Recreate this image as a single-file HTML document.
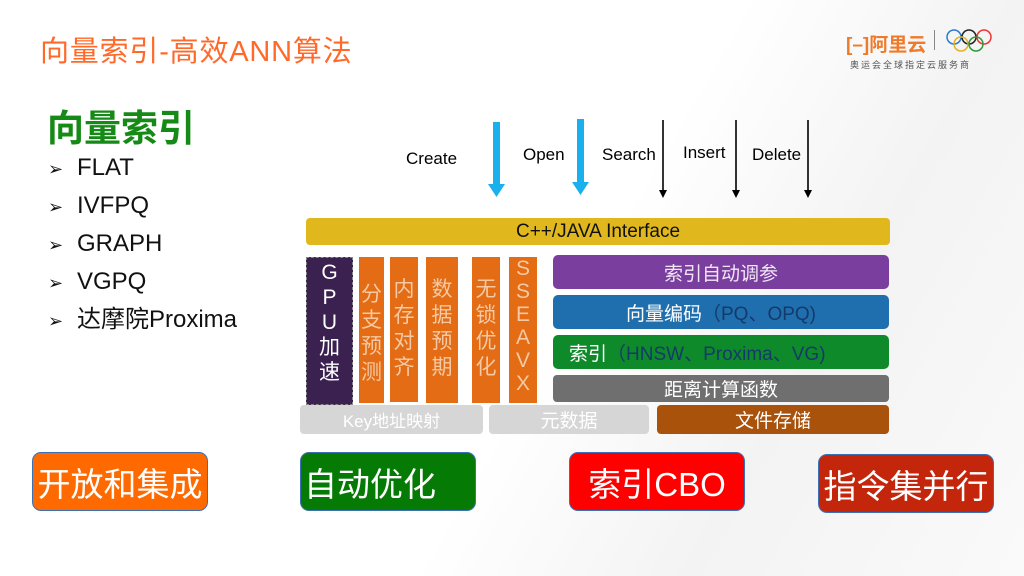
<!DOCTYPE html>
<html><head><meta charset="utf-8"><style>
*{margin:0;padding:0;box-sizing:border-box}
body{width:1024px;height:576px;overflow:hidden;background:linear-gradient(120deg,#fff 0%,#fff 55%,#f3f3f3 75%,#fafafa 100%);position:relative;font-family:"Liberation Sans","Noto Sans CJK SC",sans-serif}
.a{position:absolute}
.t{display:flex;align-items:center;justify-content:center;color:#fff;white-space:nowrap}
.col{position:absolute;background:#e36c14;color:#f4c9a4;font-size:21px;line-height:26px;text-align:center;display:flex;flex-direction:column;align-items:center}
.li{position:absolute;left:48px;font-size:24px;line-height:30px;color:#111;white-space:nowrap}
.li span{display:inline-block;width:29px;font-size:18px}
.btn{position:absolute;top:452px;height:59px;width:176px;border:1.5px solid #3b6fb6;border-radius:9px;color:#fff;font-size:33px;display:flex;align-items:center;justify-content:center}
</style></head><body>
<div class="a" style="left:40px;top:34px;font-size:29px;letter-spacing:0.8px;color:#ff6a2a;line-height:36px">向量索引-高效ANN算法</div>
<div class="a" style="left:47px;top:98px;font-size:37px;font-weight:bold;color:#168a16;">向量索引</div>
<div class="li" style="top:153px"><span>➢</span>FLAT</div>
<div class="li" style="top:191px"><span>➢</span>IVFPQ</div>
<div class="li" style="top:229px"><span>➢</span>GRAPH</div>
<div class="li" style="top:267px"><span>➢</span>VGPQ</div>
<div class="li" style="top:305px"><span>➢</span>达摩院Proxima</div>

<div class="a" style="left:846px;top:30px;font-size:19px;color:#ef7a2a;font-weight:bold">[–]阿里云</div>
<div class="a" style="left:934px;top:30px;width:1px;height:20px;background:#888"></div>
<svg class="a" style="left:944px;top:28px" width="50" height="26"><g fill="none" stroke-width="1.5"><circle cx="10" cy="9" r="7" stroke="#2a7ad0"/><circle cx="25" cy="9" r="7" stroke="#222"/><circle cx="40" cy="9" r="7" stroke="#e33"/><circle cx="17" cy="16" r="7" stroke="#e8b020"/><circle cx="32" cy="16" r="7" stroke="#2a9a3a"/></g></svg>
<div class="a" style="left:850px;top:58px;font-size:9px;color:#555;letter-spacing:2px">奥运会全球指定云服务商</div>

<div class="a" style="left:406px;top:149px;font-size:17px">Create</div>
<div class="a" style="left:523px;top:145px;font-size:17px">Open</div>
<div class="a" style="left:602px;top:145px;font-size:17px">Search</div>
<div class="a" style="left:683px;top:143px;font-size:17px">Insert</div>
<div class="a" style="left:752px;top:145px;font-size:17px">Delete</div>
<svg class="a" style="left:0;top:0" width="1024" height="576">
<g fill="#1ab0ee"><rect x="493" y="122" width="7" height="63"/><polygon points="488,184 505,184 496.5,197"/><rect x="577" y="119" width="7" height="64"/><polygon points="572,182 589,182 580.5,195"/></g>
<g stroke="#000" stroke-width="1.6"><line x1="663" y1="120" x2="663" y2="192"/><line x1="736" y1="120" x2="736" y2="192"/><line x1="808" y1="120" x2="808" y2="192"/></g>
<g fill="#000"><polygon points="659,190 667,190 663,198"/><polygon points="732,190 740,190 736,198"/><polygon points="804,190 812,190 808,198"/></g>
</svg>

<div class="a t" style="left:306px;top:218px;width:584px;height:27px;background:#e0b81e;border-radius:4px;color:#111;font-size:19px">C++/JAVA Interface</div>
<div class="col" style="left:306px;top:257px;width:47px;height:148px;background:#3a2150;border:1px dashed #888;color:#fff;padding-top:2px;line-height:25px">G<br>P<br>U<br>加<br>速</div>
<div class="col" style="left:359px;top:257px;width:25px;height:146px;padding-top:25px">分<br>支<br>预<br>测</div>
<div class="col" style="left:390px;top:257px;width:28px;height:145px;padding-top:20px">内<br>存<br>对<br>齐</div>
<div class="col" style="left:426px;top:257px;width:32px;height:146px;padding-top:20px">数<br>据<br>预<br>期</div>
<div class="col" style="left:472px;top:257px;width:28px;height:146px;padding-top:20px">无<br>锁<br>优<br>化</div>
<div class="col" style="left:509px;top:257px;width:28px;height:146px;line-height:23px">S<br>S<br>E<br>A<br>V<br>X</div>
<div class="a t" style="left:553px;top:255px;width:336px;height:34px;background:#7a3e9e;border-radius:5px;font-size:19px;color:#f0e6f6">索引自动调参</div>
<div class="a t" style="left:553px;top:295px;width:336px;height:34px;background:#1f6fae;border-radius:5px;font-size:19px;color:#fff">向量编码<span style="color:#153a6a">（PQ、OPQ)</span></div>
<div class="a t" style="left:553px;top:335px;width:336px;height:34px;background:#0e8a2a;border-radius:5px;font-size:19px;color:#fff;justify-content:flex-start;padding-left:16px">索引<span style="color:#153a6a">（HNSW、Proxima、VG)</span></div>
<div class="a t" style="left:553px;top:375px;width:336px;height:27px;background:#6f6f6f;border-radius:4px;font-size:19px">距离计算函数</div>
<div class="a t" style="left:300px;top:405px;width:183px;height:29px;background:#d6d6d6;border-radius:4px;font-size:17px">Key地址映射</div>
<div class="a t" style="left:489px;top:405px;width:160px;height:29px;background:#d6d6d6;border-radius:4px;font-size:19px">元数据</div>
<div class="a t" style="left:657px;top:405px;width:232px;height:29px;background:#a8520c;border-radius:4px;font-size:19px">文件存储</div>

<div class="btn" style="left:32px;background:#ff6a00">开放和集成</div>
<div class="btn" style="left:300px;background:#057a05;justify-content:flex-start;padding-left:3px">自动优化</div>
<div class="btn" style="left:569px;background:#ff0000">索引CBO</div>
<div class="btn" style="left:818px;top:454px;background:#c4260c">指令集并行</div>
</body></html>
